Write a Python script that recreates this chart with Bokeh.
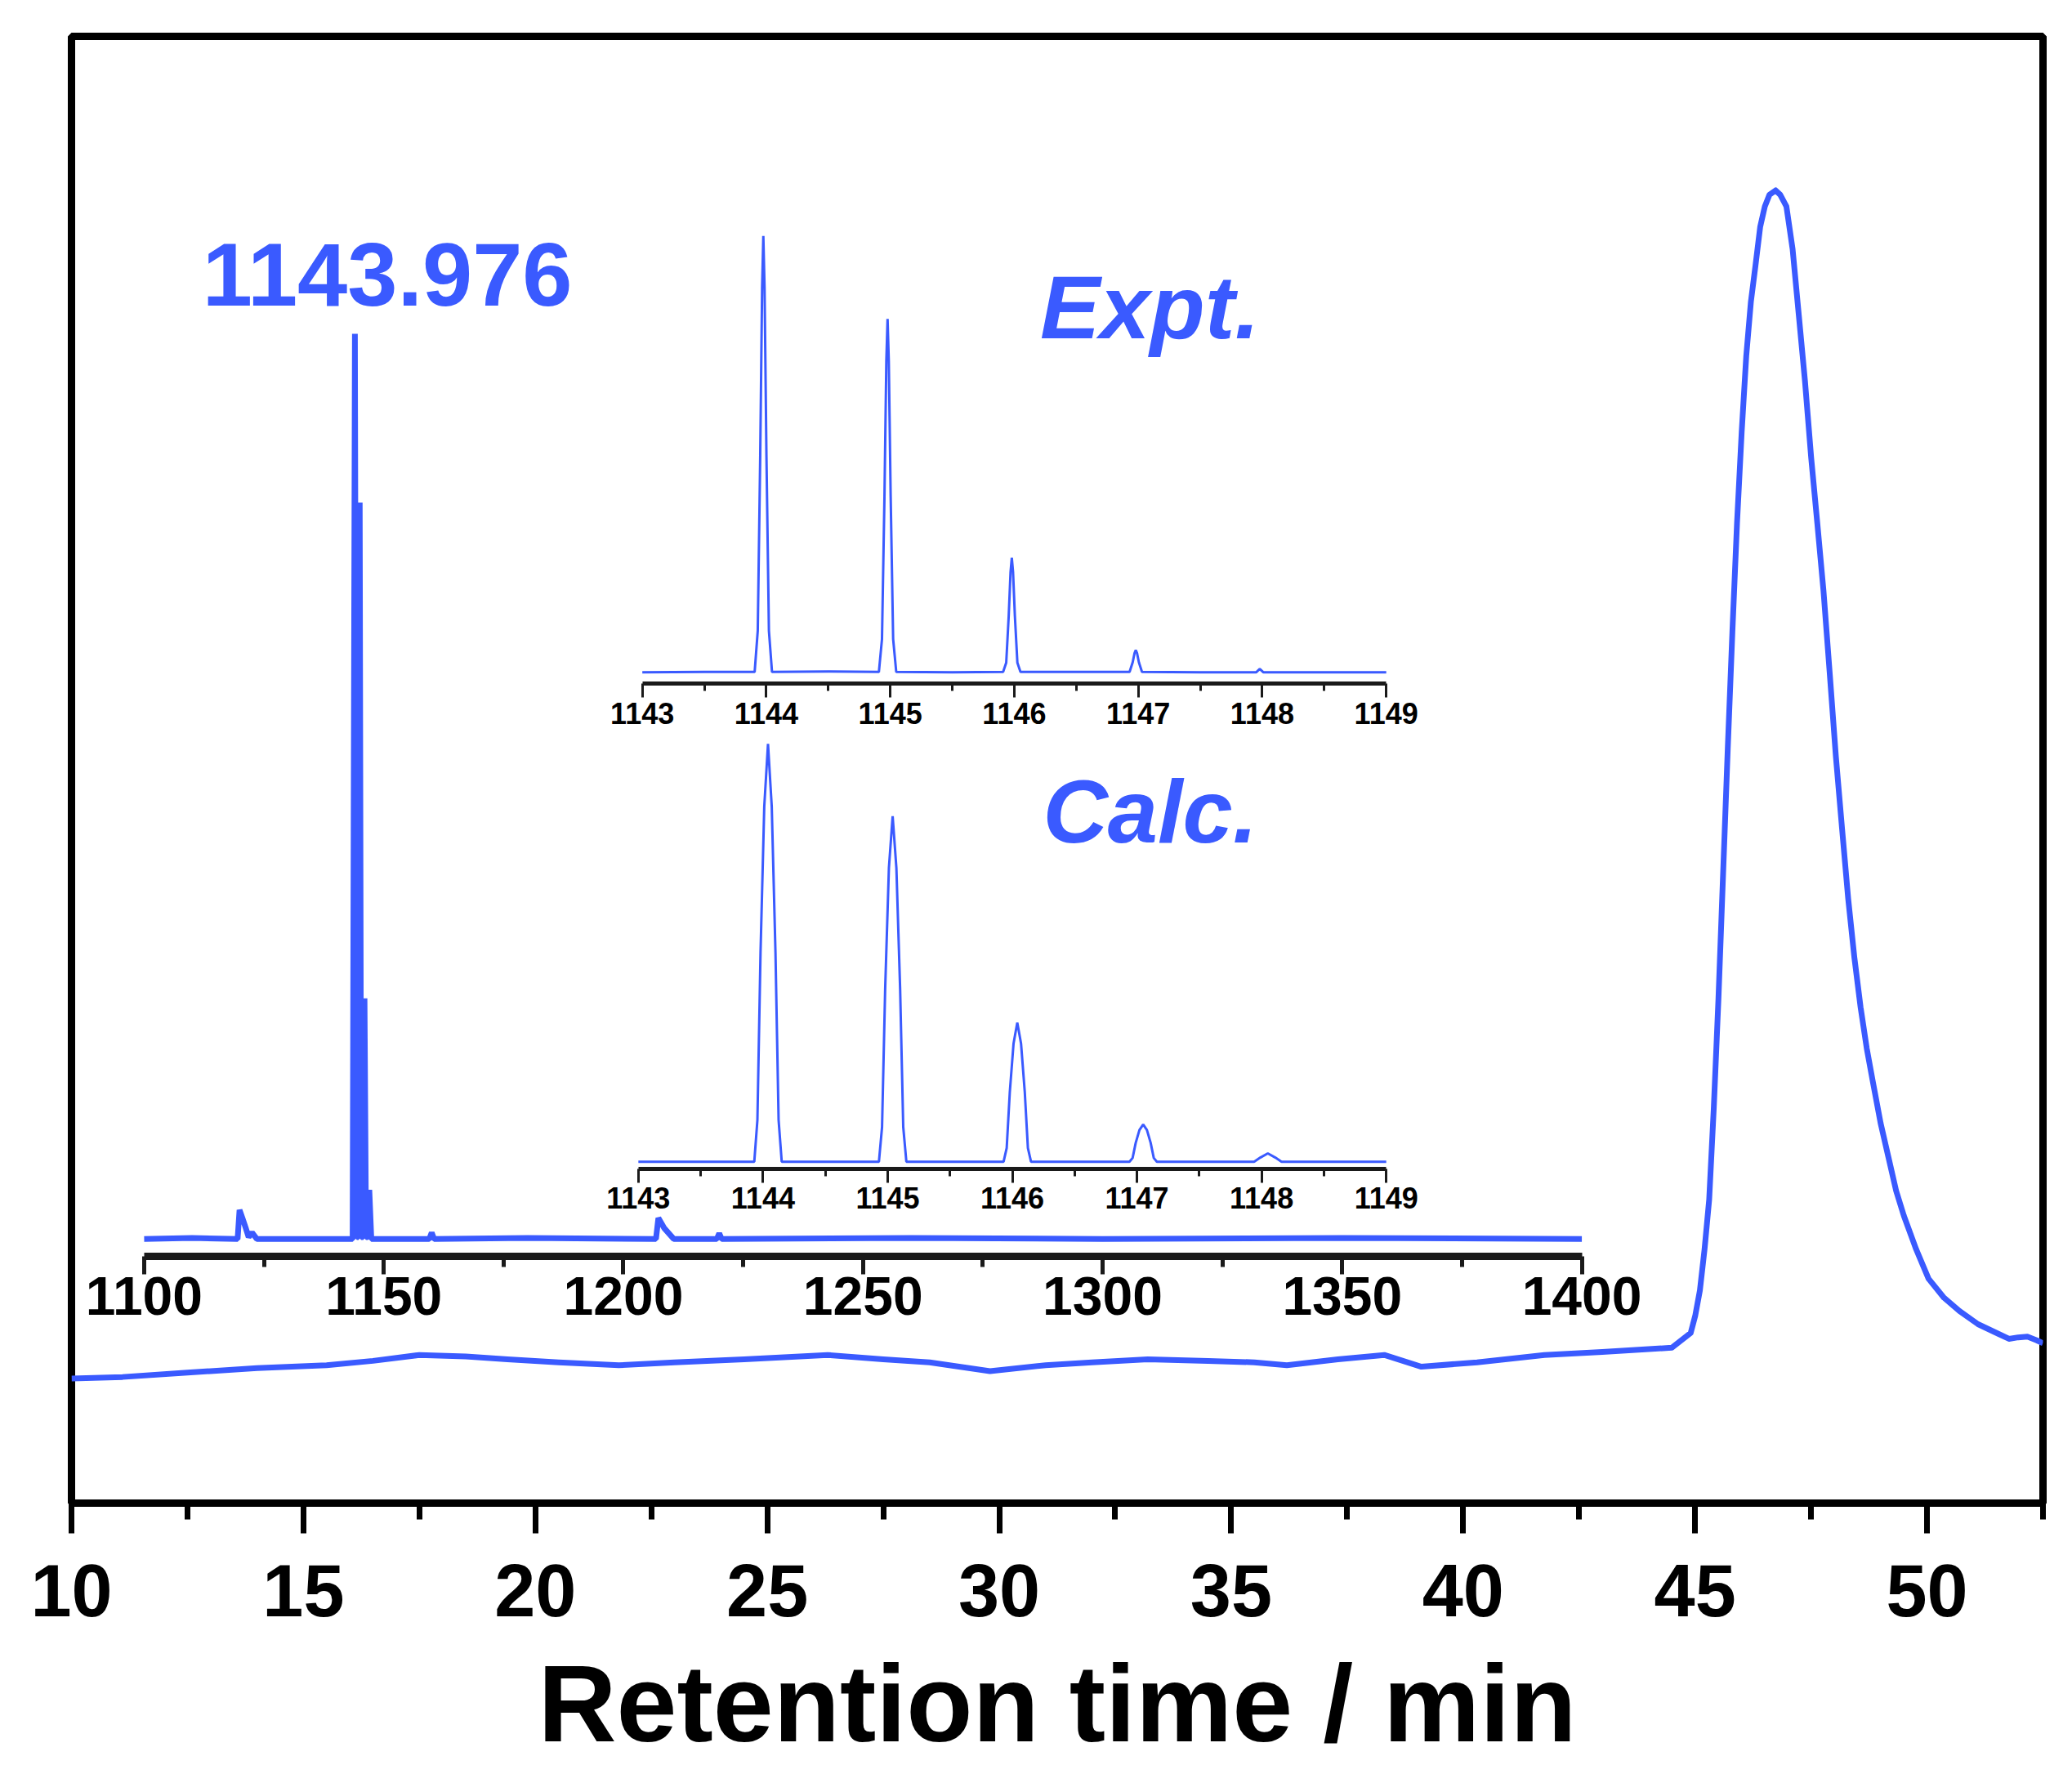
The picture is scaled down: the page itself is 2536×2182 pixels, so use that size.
from bokeh.plotting import figure
from bokeh.models import Range1d, LinearAxis, FixedTicker
from bokeh.core.properties import value
from bokeh.embed import file_html
from bokeh.resources import INLINE

BLUE = "#3A5AFF"
FONT = "Liberation Sans"

# ---------------- data ----------------
# main chromatogram (retention time / min, signal in arbitrary units)
rt_min = [10.0, 11.1, 12.5, 14.0, 15.5, 16.5, 17.5, 18.5, 19.4, 20.5, 21.8, 23.0,
          24.5, 26.3, 27.5, 28.5, 29.8, 31.0, 32.0, 33.2, 34.5, 35.5, 36.2, 37.3,
          38.3, 39.1, 40.3, 41.75, 43.0, 44.0, 44.5, 44.905, 45.005, 45.104, 45.204,
          45.304, 45.404, 45.504, 45.604, 45.704, 45.804, 45.904, 46.004, 46.103,
          46.203, 46.303, 46.403, 46.503, 46.603, 46.736, 46.836, 46.969, 47.102,
          47.236, 47.369, 47.502, 47.635, 47.768, 47.902, 48.035, 48.168, 48.301,
          48.434, 48.568, 48.701, 48.834, 49.0, 49.167, 49.334, 49.5, 49.766,
          50.033, 50.366, 50.699, 51.099, 51.498, 51.765, 51.965, 52.164, 52.364, 52.5]
signal = [8.5, 8.6, 8.9, 9.2, 9.4, 9.7, 10.1, 10.0, 9.8, 9.6, 9.4, 9.6,
          9.8, 10.1, 9.8, 9.6, 9.0, 9.4, 9.6, 9.8, 9.7, 9.6, 9.4, 9.8,
          10.1, 9.3, 9.6, 10.1, 10.3, 10.5, 10.6, 11.6, 12.8, 14.5, 17.3,
          20.7, 27.0, 34.4, 42.9, 51.4, 59.4, 66.8, 73.0, 78.2,
          81.9, 84.4, 87.0, 88.4, 89.2, 89.5, 89.2, 88.4, 85.5,
          81.0, 76.5, 71.3, 66.8, 62.2, 56.6, 50.9, 46.0, 41.2,
          37.2, 33.8, 31.0, 28.7, 25.9, 23.6, 21.3, 19.6, 17.3,
          15.3, 14.0, 13.1, 12.2, 11.6, 11.2, 11.3, 11.35, 11.1, 10.9]

# MS overview (m/z 1100-1400, relative intensity)
ms_mz = [1100.0, 1110.0, 1119.5, 1119.9, 1120.5, 1121.2, 1121.8, 1122.5, 1123.5,
         1135.0, 1143.5, 1143.976, 1144.4, 1144.7, 1144.98, 1145.3, 1145.7,
         1145.98, 1146.3, 1146.7, 1146.98, 1147.4, 1155.0, 1159.5, 1160.0, 1160.5,
         1180.0, 1206.8, 1207.3, 1208.5, 1210.5, 1219.5, 1220.0, 1220.5, 1260.0,
         1300.0, 1350.0, 1400.0]
ms_int = [0.3, 0.4, 0.3, 3.5, 2.6, 1.5, 0.5, 1.0, 0.3,
          0.3, 0.3, 100.0, 0.5, 0.5, 81.4, 0.5, 0.5,
          26.8, 0.5, 0.5, 5.7, 0.3, 0.3, 0.3, 1.0, 0.3,
          0.4, 0.3, 2.6, 1.5, 0.3, 0.3, 0.9, 0.3, 0.4,
          0.3, 0.4, 0.3]

# experimental isotope pattern
expt_mz = [1143.0, 1143.5, 1143.906, 1143.931, 1143.951, 1143.966, 1143.976, 1143.986,
           1144.001, 1144.021, 1144.046, 1144.5, 1144.908, 1144.933, 1144.953, 1144.968,
           1144.978, 1144.988, 1145.003, 1145.023, 1145.048, 1145.5, 1145.910, 1145.935,
           1145.955, 1145.970, 1145.980, 1145.990, 1146.005, 1146.025, 1146.050, 1146.5,
           1146.93, 1146.955, 1146.97, 1146.98, 1146.99, 1147.005, 1147.03, 1147.5,
           1147.95, 1147.98, 1148.01, 1148.5, 1149.0]
expt_int = [0.5, 0.6, 0.6, 10.0, 50.0, 88.0, 100.0, 88.0,
            50.0, 10.0, 0.6, 0.7, 0.6, 8.1, 40.6, 71.4,
            81.1, 71.4, 40.6, 8.1, 0.6, 0.5, 0.6, 2.7,
            13.3, 23.4, 26.6, 23.4, 13.3, 2.7, 0.6, 0.6,
            0.6, 2.8, 4.9, 5.6, 4.9, 2.8, 0.6, 0.5,
            0.5, 1.3, 0.5, 0.5, 0.5]

# calculated isotope pattern
calc_mz = [1143.0, 1143.93, 1143.955, 1143.98, 1144.01, 1144.04, 1144.07, 1144.10, 1144.125, 1144.15,
           1144.93, 1144.955, 1144.98, 1145.01, 1145.04, 1145.07, 1145.10, 1145.125, 1145.15,
           1145.93, 1145.955, 1145.98, 1146.01, 1146.04, 1146.07, 1146.10, 1146.125, 1146.15,
           1146.94, 1146.965, 1146.99, 1147.02, 1147.05, 1147.08, 1147.11, 1147.135, 1147.16,
           1147.94, 1147.99, 1148.05, 1148.11, 1148.16, 1149.0]
calc_int = [0.0, 0.0, 10.0, 50.0, 85.0, 100.0, 85.0, 50.0, 10.0, 0.0,
            0.0, 8.3, 41.4, 70.3, 82.7, 70.3, 41.4, 8.3, 0.0,
            0.0, 3.3, 16.7, 28.3, 33.3, 28.3, 16.7, 3.3, 0.0,
            0.0, 0.9, 4.5, 7.6, 8.9, 7.6, 4.5, 0.9, 0.0,
            0.0, 1.0, 2.0, 1.0, 0.0, 0.0]

main_ticks = [10, 15, 20, 25, 30, 35, 40, 45, 50]
main_minor = [12.5, 17.5, 22.5, 27.5, 32.5, 37.5, 42.5, 47.5, 52.5]
ms_ticks = [1100, 1150, 1200, 1250, 1300, 1350, 1400]
ms_minor = [1125, 1175, 1225, 1275, 1325, 1375]
iso_ticks = [1143, 1144, 1145, 1146, 1147, 1148, 1149]
iso_minor = [1143.5, 1144.5, 1145.5, 1146.5, 1147.5, 1148.5]

# ---------------- figure ----------------
p = figure(frame_width=2413, frame_height=1795,
           x_range=Range1d(10, 52.5), y_range=Range1d(0, 100),
           output_backend="svg", toolbar_location=None,
           min_border_left=87, min_border_top=44, min_border_right=30,
           min_border_bottom=330,
           background_fill_color="white", border_fill_color="white")
p.grid.visible = False
p.yaxis.visible = False
p.outline_line_color = "black"
p.outline_line_width = 9
p.outline_line_alpha = 1.0

xa = p.xaxis[0]
xa.ticker = FixedTicker(ticks=main_ticks, minor_ticks=main_minor)
xa.axis_line_width = 9
xa.axis_line_color = "black"
xa.major_tick_in = 0
xa.major_tick_out = 37
xa.minor_tick_in = 0
xa.minor_tick_out = 20
xa.major_tick_line_width = 7
xa.minor_tick_line_width = 7
xa.major_label_text_font = FONT
xa.major_label_text_font_style = "bold"
xa.major_label_text_font_size = "90px"
xa.major_label_text_color = "black"
xa.major_label_standoff = 38
xa.axis_label = "Retention time / min"
xa.axis_label_text_font = FONT
xa.axis_label_text_font_style = "bold"
xa.axis_label_text_font_size = "133px"
xa.axis_label_text_color = "black"
xa.axis_label_standoff = 30

p.extra_x_ranges = {
    "ms": Range1d(1084.835, 1496.23),
    "expt": Range1d(1138.396, 1154.297),
    "calc": Range1d(1138.452, 1154.269),
}
p.extra_y_ranges = {
    "ms": Range1d(-28.8, 132.75),
    "expt": Range1d(-188.9, 145.5),
    "calc": Range1d(-81.7, 269.3),
}

# spectra
p.line(rt_min, signal, line_width=7, line_color=BLUE, line_join="round")
p.line(ms_mz, ms_int, x_range_name="ms", y_range_name="ms", line_width=7, line_color=BLUE)
p.line(expt_mz, expt_int, x_range_name="expt", y_range_name="expt", line_width=3, line_color=BLUE)
p.line(calc_mz, calc_int, x_range_name="calc", y_range_name="calc", line_width=3, line_color=BLUE)


def inset_axis(rng, loc, bounds, ticks, minor, lw, tout, mout, tw, fs, so):
    ax = LinearAxis(x_range_name=rng, fixed_location=loc, bounds=bounds,
                    ticker=FixedTicker(ticks=ticks, minor_ticks=minor))
    ax.axis_line_width = lw
    ax.axis_line_color = "#1a1a1a"
    ax.major_tick_in = 0
    ax.major_tick_out = tout
    ax.minor_tick_in = 0
    ax.minor_tick_out = mout
    ax.major_tick_line_width = tw
    ax.minor_tick_line_width = tw
    ax.major_tick_line_color = "#1a1a1a"
    ax.minor_tick_line_color = "#1a1a1a"
    ax.major_label_text_font = FONT
    ax.major_label_text_font_style = "bold"
    ax.major_label_text_font_size = fs
    ax.major_label_text_color = "black"
    ax.major_label_standoff = so
    p.add_layout(ax, "below")


inset_axis("ms", 16.85, (1100, 1400), ms_ticks, ms_minor, 9, 22, 13, 5, "66px", 4)
inset_axis("expt", 55.85, (1143, 1149), iso_ticks, iso_minor, 5, 17, 9, 3, "36px", 6)
inset_axis("calc", 22.79, (1143, 1149), iso_ticks, iso_minor, 5, 17, 9, 3, "36px", 6)

# annotations
p.text(x=[16.81], y=[83.76], text=["1143.976"], text_font=value(FONT),
       text_font_style="bold", text_font_size="110px", text_color=BLUE,
       text_align="center", text_baseline="alphabetic")
p.text(x=[30.88], y=[81.55], text=["Expt."], text_font=value(FONT),
       text_font_style="bold italic", text_font_size="110px", text_color=BLUE,
       text_align="left", text_baseline="alphabetic")
p.text(x=[30.94], y=[47.18], text=["Calc."], text_font=value(FONT),
       text_font_style="bold italic", text_font_size="110px", text_color=BLUE,
       text_align="left", text_baseline="alphabetic")

open("out.html", "w").write(file_html(p, INLINE))
